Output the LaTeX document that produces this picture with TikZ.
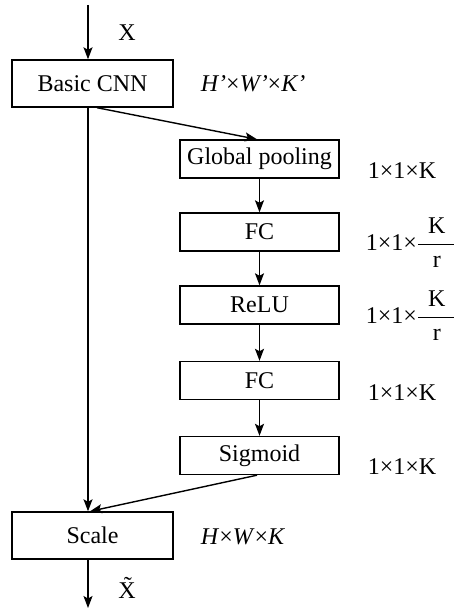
\documentclass[tikz,border=0pt]{standalone}
\usepackage{amsmath}
\usepackage{fontspec}
\setmainfont{Liberation Serif}
\usepackage{tikz}
\usetikzlibrary{arrows.meta, positioning}
\tikzstyle{block} = [rectangle, minimum width=159pt, minimum height=38pt, inner sep=3pt, text centered, draw=black, line width=1.4pt]
\tikzstyle{bigblock} = [block, minimum width=161pt, minimum height=47pt]
\tikzstyle{dims} = [inner sep=0pt]
\tikzstyle{arrow} = [line width=1.4pt,->,>={Stealth[length=12pt,width=9pt,inset=2.5pt]}]
\newcommand{\kfrac}{$\dfrac{\hspace{10pt}\text{K}\hspace{10pt}}{\text{r}}$}

\begin{document}
\begin{tikzpicture}[node distance=73pt, font=\fontsize{24}{28}\selectfont]
  \useasboundingbox (0,0) rectangle (453pt,-610pt);

  \node (basic) [bigblock] at (92.5pt,-83.5pt) {Basic CNN};
  \node (pool)  [block] at (259.5pt,-159pt) {Global pooling};
  \node (fc1)   [block, below of=pool] {FC};
  \node (relu)  [block, below of=fc1] {ReLU};
  \node (fc2)   [block, below of=relu, node distance=75.5pt] {FC};
  \node (sig)   [block, below of=fc2, node distance=75pt] {Sigmoid};
  \node (scale) [bigblock] at (92.5pt,-535.5pt) {Scale};

  \node (dbasic) [dims, right=27pt of basic.east] {\textit{H'}×\textit{W'}×\textit{K'}};
  \node (dpool)  [dims, right=28pt of pool.east, yshift=-11.5pt] {1×1×K};
  \node (dfc1)   [dims, right=26pt of fc1.east, yshift=-11pt] {1×1×\kfrac};
  \node (drelu)  [dims, right=26pt of relu.east, yshift=-11pt] {1×1×\kfrac};
  \node (dfc2)   [dims, right=28pt of fc2.east, yshift=-12pt] {1×1×K};
  \node (dsig)   [dims, right=28pt of sig.east, yshift=-11.5pt] {1×1×K};
  \node (dscale) [dims, right=27pt of scale.east, yshift=-1pt] {\textit{H}×\textit{W}×\textit{K}};

  \coordinate (in)  at (88pt,-5pt);
  \coordinate (out) at (88pt,-608pt);
  \node (xin)  at (127pt,-33pt) {X};
  \node (xout) at (127pt,-588pt) {\~{X}};

  \draw [arrow] (in) -- ([xshift=-4.5pt]basic.north);
  \draw [arrow] ([xshift=4.5pt]basic.south) -- ([xshift=-2.5pt]pool.north);
  \draw [arrow] (pool) -- (fc1);
  \draw [arrow] (fc1) -- (relu);
  \draw [arrow] (relu) -- (fc2);
  \draw [arrow] (fc2) -- (sig);
  \draw [arrow] ([xshift=-4.5pt]basic.south) -- ([xshift=-4.5pt]scale.north);
  \draw [arrow] ([xshift=-2.5pt]sig.south) -- ([xshift=-2.5pt]scale.north);
  \draw [arrow] ([xshift=-4.5pt]scale.south) -- (out);
\end{tikzpicture}
\end{document}
